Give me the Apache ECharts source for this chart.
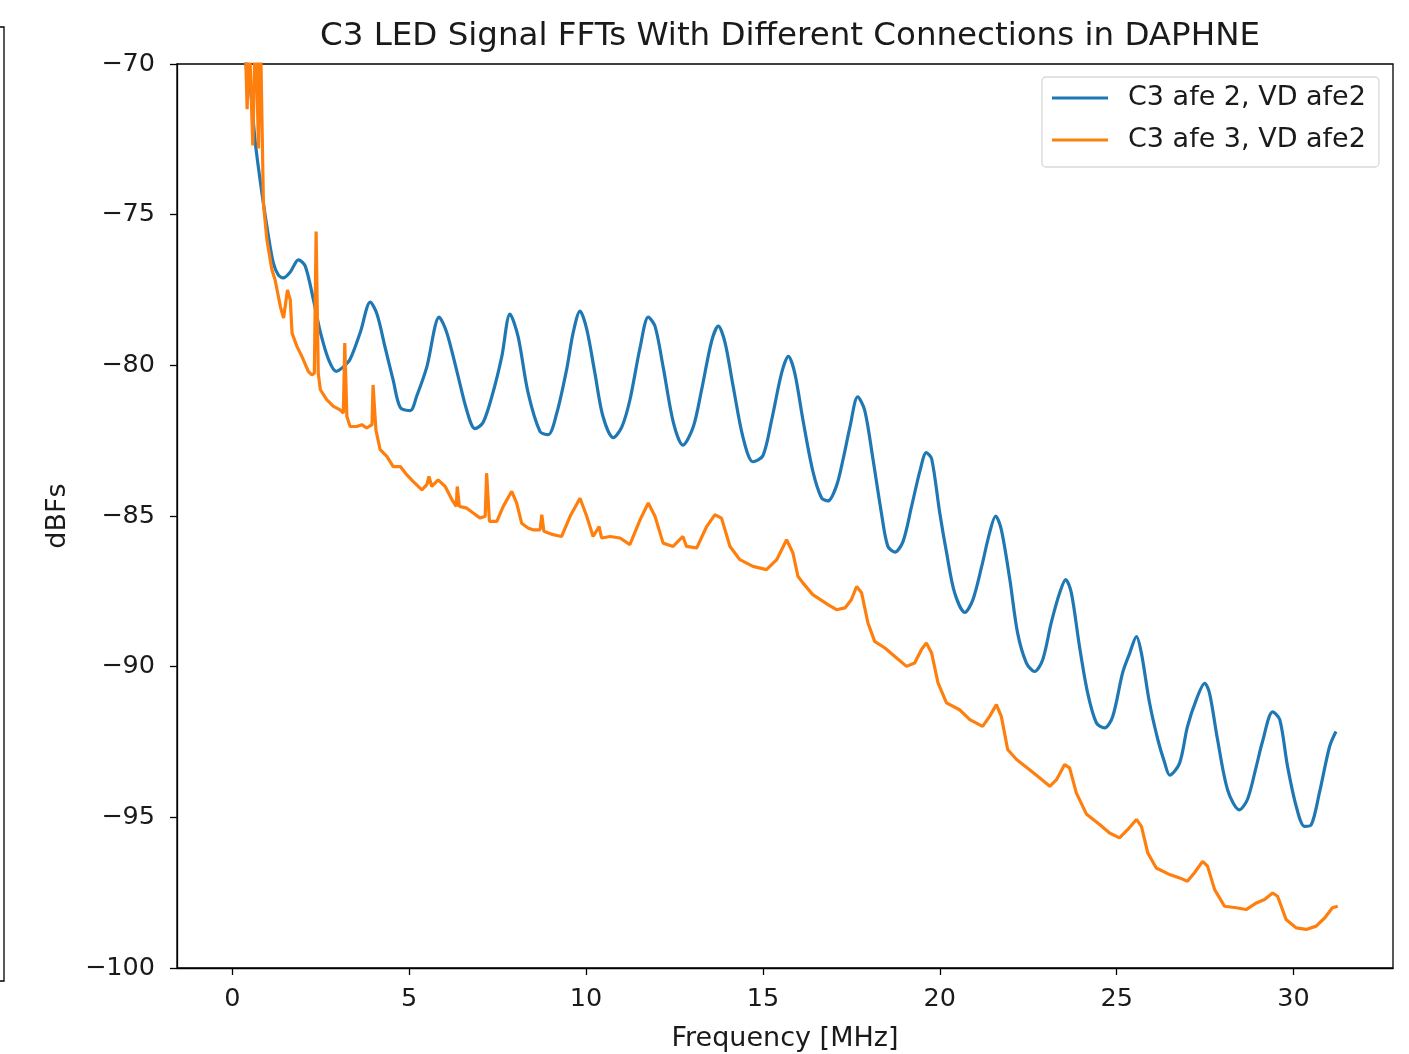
<!DOCTYPE html>
<html>
<head>
<meta charset="utf-8">
<script src="https://cdn.jsdelivr.net/npm/echarts@6/dist/echarts.min.js"></script>
<style>
  html, body { margin: 0; padding: 0; background: #fff; }
  #chart { width: 1409px; height: 1054px; }
</style>
</head>
<body>
<div id="chart"></div>
<script>
// blue trace: C3 afe 2, VD afe2
const freqBlue = [0.33, 0.43, 0.51, 0.65, 0.84, 1.02, 1.16, 1.30, 1.44, 1.64, 1.87, 2.06, 2.29, 2.49, 2.72, 2.94,
  3.14, 3.33, 3.62, 3.90, 4.09, 4.32, 4.55, 4.75, 5.03, 5.22, 5.50, 5.85, 6.06, 6.35, 6.63, 6.86, 7.09, 7.37,
  7.62, 7.85, 8.08, 8.36, 8.70, 8.93, 9.17, 9.45, 9.64, 9.83, 10.02, 10.25, 10.48, 10.77, 11.01, 11.24, 11.53,
  11.76, 11.95, 12.18, 12.47, 12.74, 13.03, 13.27, 13.55, 13.74, 13.93, 14.16, 14.44, 14.72, 15.00, 15.25,
  15.53, 15.72, 15.90, 16.13, 16.41, 16.66, 16.84, 17.08, 17.27, 17.46, 17.68, 17.88, 18.11, 18.35, 18.53,
  18.73, 18.96, 19.20, 19.44, 19.62, 19.77, 20.00, 20.19, 20.42, 20.71, 20.93, 21.18, 21.41, 21.58, 21.74,
  21.98, 22.20, 22.45, 22.68, 22.91, 23.15, 23.39, 23.56, 23.72, 23.95, 24.18, 24.43, 24.66, 24.89, 25.17,
  25.37, 25.56, 25.70, 25.93, 26.16, 26.36, 26.50, 26.78, 27.00, 27.25, 27.49, 27.63, 27.85, 28.14, 28.47,
  28.70, 28.95, 29.12, 29.41, 29.61, 29.83, 30.08, 30.31, 30.50, 30.73, 31.02, 31.20];
const dbBlue = [-69.0, -70.5, -70.8, -72.6, -74.3, -75.7, -76.6, -77.0, -77.1, -76.9, -76.5, -76.7, -77.8, -78.9,
  -79.8, -80.2, -80.05, -79.8, -78.9, -77.9, -78.3, -79.4, -80.5, -81.4, -81.5, -81.0, -80.05, -78.4, -78.9,
  -80.2, -81.5, -82.1, -81.9, -80.9, -79.7, -78.3, -79.05, -80.9, -82.2, -82.3, -81.6, -80.15, -78.9, -78.2,
  -78.8, -80.25, -81.7, -82.4, -82.05, -81.15, -79.4, -78.4, -78.7, -80.05, -81.9, -82.65, -82.05, -80.8,
  -79.2, -78.7, -79.25, -80.7, -82.4, -83.2, -83.0, -81.8, -80.25, -79.7, -80.25, -81.8, -83.5, -84.4, -84.5,
  -84.0, -83.1, -82.05, -81.05, -81.5, -83.1, -84.9, -86.0, -86.2, -85.85, -84.7, -83.5, -82.9, -83.1, -84.9,
  -86.2, -87.55, -88.2, -87.8, -86.7, -85.55, -85.0, -85.45, -87.1, -88.88, -89.88, -90.16, -89.77, -88.55,
  -87.55, -87.11, -87.55, -89.33, -90.87, -91.87, -92.03, -91.65, -90.2, -89.55, -89.0, -89.55, -91.2, -92.4,
  -93.2, -93.6, -93.2, -92.0, -91.1, -90.55, -90.9, -92.4, -94.1, -94.75, -94.4, -93.3, -92.5, -91.5, -91.75,
  -93.3, -94.65, -95.3, -95.25, -94.2, -92.65, -92.15];

// orange trace: C3 afe 3, VD afe2
const freqOrange = [0.35, 0.42, 0.48, 0.58, 0.66, 0.74, 0.79, 0.88, 0.98, 1.12, 1.21, 1.36, 1.45, 1.56, 1.64,
  1.69, 1.83, 1.97, 2.15, 2.25, 2.32, 2.37, 2.43, 2.49, 2.67, 2.86, 3.05, 3.14, 3.18, 3.24, 3.33, 3.52, 3.66,
  3.80, 3.95, 3.98, 4.06, 4.18, 4.37, 4.55, 4.75, 4.93, 5.11, 5.36, 5.50, 5.56, 5.64, 5.82, 6.02, 6.21, 6.33,
  6.36, 6.42, 6.63, 6.81, 7.01, 7.15, 7.19, 7.27, 7.48, 7.66, 7.90, 8.04, 8.18, 8.36, 8.50, 8.70, 8.75, 8.81,
  9.07, 9.31, 9.55, 9.83, 10.02, 10.20, 10.37, 10.44, 10.68, 10.96, 11.24, 11.53, 11.76, 11.95, 12.18, 12.46,
  12.74, 12.84, 13.13, 13.41, 13.64, 13.83, 14.07, 14.35, 14.72, 15.10, 15.39, 15.67, 15.85, 15.99, 16.13,
  16.41, 16.84, 17.08, 17.32, 17.50, 17.65, 17.79, 17.97, 18.16, 18.45, 18.73, 19.06, 19.29, 19.48, 19.62,
  19.77, 19.95, 20.19, 20.56, 20.85, 21.21, 21.41, 21.60, 21.74, 21.92, 22.17, 22.54, 22.82, 23.11, 23.30,
  23.53, 23.67, 23.86, 24.15, 24.52, 24.80, 25.08, 25.31, 25.56, 25.70, 25.88, 26.12, 26.50, 26.78, 27.00,
  27.20, 27.43, 27.57, 27.77, 28.05, 28.38, 28.66, 28.95, 29.18, 29.41, 29.55, 29.79, 30.08, 30.36, 30.64,
  30.88, 31.10, 31.25];
const dbOrange = [-68.5, -71.5, -69.0, -72.7, -68.5, -72.8, -68.5, -74.62, -75.84, -76.83, -77.16, -78.05,
  -78.43, -77.5, -77.83, -78.93, -79.38, -79.71, -80.2, -80.32, -80.26, -75.56, -80.26, -80.81, -81.14, -81.36,
  -81.48, -81.59, -79.26, -81.7, -82.03, -82.03, -81.97, -82.08, -81.97, -80.65, -82.14, -82.8, -83.02, -83.36,
  -83.36, -83.63, -83.85, -84.13, -83.96, -83.69, -84.02, -83.8, -84.02, -84.46, -84.68, -84.02, -84.68,
  -84.74, -84.9, -85.07, -85.01, -83.58, -85.18, -85.18, -84.68, -84.18, -84.57, -85.24, -85.4, -85.46,
  -85.46, -84.96, -85.51, -85.62, -85.68, -85.01, -84.41, -85.01, -85.68, -85.35, -85.73, -85.68, -85.73,
  -85.95, -85.12, -84.57, -85.01, -85.9, -86.01, -85.68, -86.01, -86.06, -85.35, -84.96, -85.07, -86.01,
  -86.45, -86.67, -86.78, -86.45, -85.79, -86.23, -87.0, -87.22, -87.61, -87.94, -88.11, -88.05, -87.78,
  -87.34, -87.55, -88.55, -89.16, -89.38, -89.66, -89.99, -89.88, -89.44, -89.21, -89.55, -90.54, -91.2,
  -91.43, -91.76, -91.98, -91.65, -91.26, -91.65, -92.75, -93.08, -93.42, -93.69, -93.97, -93.75, -93.25,
  -93.36, -94.19, -94.9, -95.24, -95.52, -95.68, -95.41, -95.07, -95.3, -96.18, -96.68, -96.9, -97.01,
  -97.12, -96.84, -96.46, -96.62, -97.4, -97.95, -98.0, -98.06, -97.84, -97.73, -97.51, -97.62, -98.39,
  -98.67, -98.72, -98.61, -98.34, -98.0, -97.95];

const xTicks = [0, 5, 10, 15, 20, 25, 30];

const zip = (xs, ys) => xs.map((x, i) => [x, ys[i]]);
const minus = v => String(v).replace('-', '\u2212');

const font = 'DejaVu Sans';
const ink = '#1a1a1a';

const chart = echarts.init(document.getElementById('chart'), null, { renderer: 'canvas' });

chart.setOption({
  animation: false,
  backgroundColor: '#fff',
  textStyle: { fontFamily: font, color: ink },
  title: {
    text: 'C3 LED Signal FFTs With Different Connections in DAPHNE',
    left: 785,
    top: 15,
    textAlign: 'center',
    textStyle: { fontFamily: font, fontSize: 32.5, fontWeight: 'normal', color: ink }
  },
  legend: {
    orient: 'vertical',
    left: 1042,
    top: 77,
    padding: [7, 13, 13, 10],
    itemGap: 14,
    itemWidth: 56,
    itemHeight: 3,
    icon: 'rect',
    backgroundColor: '#fff',
    borderColor: '#d9d9d9',
    borderWidth: 1.3,
    borderRadius: 4,
    textStyle: { fontFamily: font, fontSize: 27, color: ink, lineHeight: 28, padding: [0, 0, 0, 15] },
    data: ['C3 afe 2, VD afe2', 'C3 afe 3, VD afe2']
  },
  grid: {
    left: 177, top: 64, right: 16, bottom: 86,
    outerBoundsMode: 'none',
    containLabel: false,
    show: true, borderColor: '#000', borderWidth: 1.3, backgroundColor: 'transparent'
  },
  xAxis: {
    type: 'value',
    min: -1.5625,
    max: 32.8125,
    name: 'Frequency [MHz]',
    nameLocation: 'middle',
    nameGap: 57,
    nameTextStyle: { fontFamily: font, fontSize: 27, color: ink },
    axisLine: { show: true, onZero: false, lineStyle: { color: '#000', width: 1.3 } },
    axisTick: { show: true, length: 7, lineStyle: { color: '#000', width: 1.3 }, customValues: xTicks },
    axisLabel: { fontFamily: font, fontSize: 25.5, color: ink, margin: 18, customValues: xTicks, formatter: minus },
    splitLine: { show: false }
  },
  yAxis: {
    type: 'value',
    min: -100,
    max: -70,
    interval: 5,
    name: 'dBFs',
    nameLocation: 'middle',
    nameRotate: 90,
    nameGap: 106,
    nameTextStyle: { fontFamily: font, fontSize: 27, color: ink },
    axisLine: { show: true, onZero: false, lineStyle: { color: '#000', width: 1.3 } },
    axisTick: { show: true, length: 7, lineStyle: { color: '#000', width: 1.3 } },
    axisLabel: { fontFamily: font, fontSize: 25.5, color: ink, margin: 22, formatter: minus },
    splitLine: { show: false }
  },
  graphic: [{
    type: 'polyline',
    shape: { points: [[0, 27], [4, 27], [4, 981], [0, 981]] },
    style: { stroke: '#000', lineWidth: 1.3, fill: null }
  }],
  series: [
    {
      name: 'C3 afe 2, VD afe2',
      type: 'line',
      data: zip(freqBlue, dbBlue),
      showSymbol: false,
      symbol: 'none',
      smooth: 0.3,
      clip: true,
      lineStyle: { color: '#1f77b4', width: 3.2 },
      itemStyle: { color: '#1f77b4' }
    },
    {
      name: 'C3 afe 3, VD afe2',
      type: 'line',
      data: zip(freqOrange, dbOrange),
      showSymbol: false,
      symbol: 'none',
      clip: true,
      lineStyle: { color: '#ff7f0e', width: 3.2 },
      itemStyle: { color: '#ff7f0e' }
    }
  ]
});
</script>
</body>
</html>
